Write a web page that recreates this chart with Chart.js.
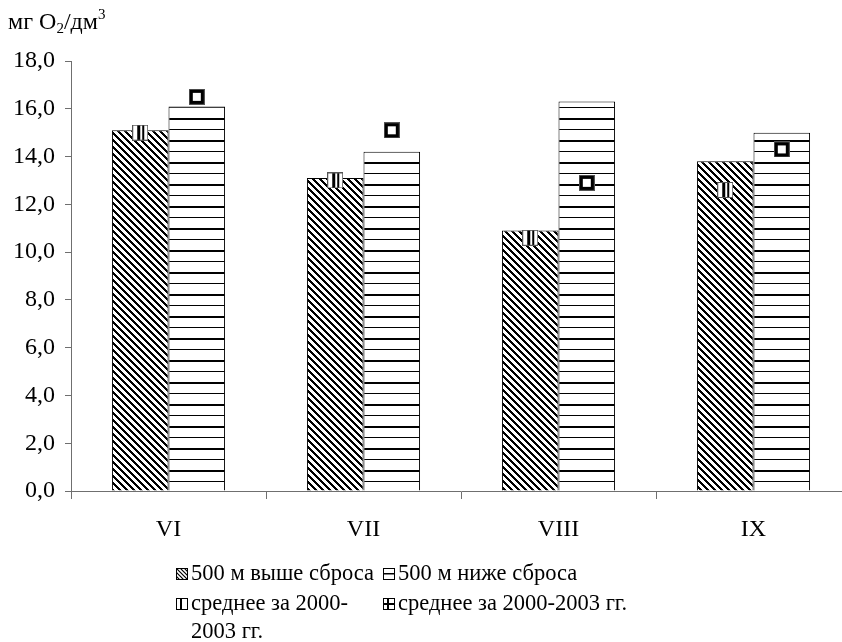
<!DOCTYPE html>
<html>
<head>
<meta charset="utf-8">
<script src="https://cdn.jsdelivr.net/npm/chart.js@4/dist/chart.umd.min.js"></script>
<style>
  html, body { margin: 0; padding: 0; background: #fff; }
  #wrap { position: relative; width: 842px; height: 642px; overflow: hidden; font-family: "Liberation Serif", "Times New Roman", serif; color: #000; }
  #chart { position: absolute; left: 0; top: 0; }
  .unit { position: absolute; left: 8px; top: 6px; font-size: 24px; white-space: nowrap; }
  .unit sub { font-size: 15px; vertical-align: -4px; }
  .unit sup { font-size: 15px; vertical-align: 10px; }
  .lg { position: absolute; font-size: 22.5px; white-space: nowrap; line-height: 26px; }
  .lg svg { position: absolute; left: -15px; top: 8px; }
</style>
</head>
<body>
<div id="wrap">
  <canvas id="chart" width="860" height="642"></canvas>
  <div class="unit">мг O<sub>2</sub>/дм<sup>3</sup></div>
  <div id="legend"></div>
</div>
<script>
// Chart data
const categories = ['VI', 'VII', 'VIII', 'IX'];
const aboveValues = [15.1, 13.1, 10.9, 13.8];
const belowValues = [16.1, 14.2, 16.3, 15.0];
const meanAboveValues = [15.0, 13.0, 10.6, 12.6];
const meanBelowValues = [16.5, 15.1, 12.9, 14.3];

const labelAbove = '500 м выше сброса';
const labelBelow = '500 м ниже сброса';
const labelMean = 'среднее за 2000-2003 гг.';

// Fill patterns
function makeTile(w, h, drawFn) {
  const c = document.createElement('canvas');
  c.width = w; c.height = h;
  const ctx = c.getContext('2d');
  ctx.fillStyle = '#fff';
  ctx.fillRect(0, 0, w, h);
  ctx.fillStyle = '#000';
  drawFn(ctx);
  return c;
}

const ctx = document.getElementById('chart').getContext('2d');

const diagTile = makeTile(7, 7, (c) => {
  for (let i = 0; i < 7; i++) {
    c.fillRect(i, i, 1, 1);
    c.fillRect((i + 1) % 7, i, 1, 1);
    c.fillRect((i + 2) % 7, i, 1, 1);
  }
});
const horizTile = makeTile(4, 22, (c) => {
  c.fillRect(0, 8, 4, 2);
  c.fillRect(0, 19, 4, 1);
});
const diagPattern = ctx.createPattern(diagTile, 'repeat');
const horizPattern = ctx.createPattern(horizTile, 'repeat');

// Marker images for the 2000-2003 means
const markerAbove = makeTile(16, 16, (c) => {
  c.fillStyle = '#555';
  c.fillRect(0, 0, 16, 1); c.fillRect(0, 15, 16, 1);
  c.fillRect(0, 0, 1, 16); c.fillRect(15, 0, 1, 16);
  c.fillStyle = '#000';
  c.fillRect(5, 1, 3, 14);
  c.fillRect(10, 1, 2, 14);
});
const markerBelow = makeTile(16, 16, (c) => {
  c.fillStyle = '#555';
  c.fillRect(0, 0, 16, 16);
  c.fillStyle = '#000';
  c.fillRect(1, 1, 14, 14);
  c.fillStyle = '#fff';
  c.fillRect(4, 4, 8, 8);
});

// Put each mean marker over its own bar instead of the category centre
const alignMarkers = {
  id: 'alignMarkers',
  afterDatasetsUpdate(chart) {
    [[2, 0], [3, 1]].forEach(([lineIdx, barIdx]) => {
      const pts = chart.getDatasetMeta(lineIdx).data;
      const bars = chart.getDatasetMeta(barIdx).data;
      pts.forEach((p, i) => { if (bars[i]) p.x = bars[i].x; });
    });
  }
};

const axisColor = '#6f6f6f';
const tickFont = { family: 'Liberation Serif', size: 24 };

new Chart(ctx, {
  type: 'bar',
  data: {
    labels: categories,
    datasets: [
      { label: labelAbove, data: aboveValues, backgroundColor: diagPattern, borderColor: '#000', borderWidth: 1, order: 2 },
      { label: labelBelow, data: belowValues, backgroundColor: horizPattern, borderColor: '#000', borderWidth: 1, order: 2 },
      { type: 'line', label: labelMean, data: meanAboveValues, showLine: false, pointStyle: markerAbove, order: 0 },
      { type: 'line', label: labelMean, data: meanBelowValues, showLine: false, pointStyle: markerBelow, order: 0 }
    ]
  },
  options: {
    responsive: false,
    animation: false,
    devicePixelRatio: 1,
    categoryPercentage: 0.58,
    barPercentage: 1,
    layout: { padding: { left: 0, right: 9, top: 61, bottom: 0 } },
    plugins: { legend: { display: false }, tooltip: { enabled: false } },
    scales: {
      x: {
        grid: { offset: true, drawOnChartArea: false, drawTicks: true, tickLength: 8, color: axisColor },
        border: { color: axisColor, width: 1 },
        ticks: { font: tickFont, color: '#000', padding: 16 },
        afterFit(scale) { scale.height = 151; }
      },
      y: {
        min: 0,
        max: 18,
        grid: { drawOnChartArea: false, drawTicks: true, tickLength: 6, color: axisColor },
        border: { color: axisColor, width: 1 },
        ticks: {
          stepSize: 2,
          font: tickFont,
          color: '#000',
          padding: 10,
          callback: (v) => v.toFixed(1).replace('.', ',')
        },
        afterFit(scale) { scale.width = 71; }
      }
    }
  },
  plugins: [alignMarkers]
});

// HTML legend (the third label wraps in the original)
const icons = {
  hatch: '<svg width="12" height="12"><defs><pattern id="hp" width="4" height="4" patternUnits="userSpaceOnUse"><path d="M-1,-1 L5,5 M-1,3 L1,5 M3,-1 L5,1" stroke="#000" stroke-width="1.2"/></pattern></defs><rect x="0.5" y="0.5" width="11" height="11" fill="url(#hp)" stroke="#000"/></svg>',
  horiz: '<svg width="12" height="12"><rect x="0.5" y="0.5" width="11" height="11" fill="#fff" stroke="#000"/><rect x="0" y="5" width="12" height="1.5" fill="#000"/></svg>',
  vert: '<svg width="12" height="12"><rect x="0.5" y="0.5" width="11" height="11" fill="#fff" stroke="#000"/><rect x="4" y="0" width="2" height="12" fill="#000"/></svg>',
  cross: '<svg width="12" height="12"><rect x="0.5" y="0.5" width="11" height="11" fill="#fff" stroke="#000"/><rect x="4" y="0" width="2" height="12" fill="#000"/><rect x="0" y="5" width="12" height="2" fill="#000"/></svg>'
};
const legendItems = [
  { x: 191, y: 560, icon: icons.hatch, text: labelAbove },
  { x: 398, y: 560, icon: icons.horiz, text: labelBelow },
  { x: 191, y: 590, icon: icons.vert, text: 'среднее за 2000-' },
  { x: 398, y: 590, icon: icons.cross, text: labelMean },
  { x: 191, y: 618, icon: '', text: '2003 гг.' }
];
const legendBox = document.getElementById('legend');
legendItems.forEach(item => {
  const el = document.createElement('div');
  el.className = 'lg';
  el.style.left = item.x + 'px';
  el.style.top = item.y + 'px';
  el.innerHTML = item.icon + item.text;
  legendBox.appendChild(el);
});
</script>
</body>
</html>
